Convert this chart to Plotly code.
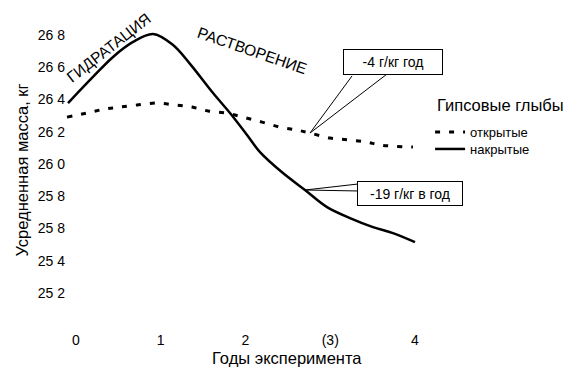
import plotly.graph_objects as go

# Data
years_covered = [-0.094, 0.20, 0.437, 0.673, 0.909, 1.145, 1.345, 1.617, 1.817, 2.018,
                 2.171, 2.442, 2.702, 2.962, 3.233, 3.504, 3.740, 4.0]
mass_covered = [26.378, 26.54, 26.664, 26.757, 26.806, 26.738, 26.621, 26.44, 26.316, 26.18,
                26.074, 25.944, 25.839, 25.733, 25.665, 25.609, 25.572, 25.516]

years_open = [-0.106, 0.13, 0.342, 0.519, 0.72, 0.956, 1.168, 1.369, 1.558, 1.77, 1.97,
              2.195, 2.407, 2.608, 2.761, 2.997, 3.233, 3.434, 3.587, 3.976]
mass_open = [26.291, 26.316, 26.341, 26.353, 26.366, 26.378, 26.366, 26.353, 26.329, 26.316,
             26.291, 26.26, 26.229, 26.211, 26.192, 26.161, 26.149, 26.136, 26.118, 26.105]

x_tickvals = [0, 1, 2, 3, 4]
x_ticktext = ["0", "1", "2", "(3)", "4"]
y_tickvals = [26.8, 26.6, 26.4, 26.2, 26.0, 25.8, 25.6, 25.4, 25.2]
y_ticktext = ["26 8", "26 6", "26 4", "26 2", "26 0", "25 8", "25 8", "25 4", "25 2"]

FONT = "Liberation Sans, Arial, sans-serif"

fig = go.Figure()
fig.add_trace(go.Scatter(x=years_open, y=mass_open, mode="lines", name="открытые",
                         legend="legend",
                         line=dict(color="black", width=3, dash="5px,9px", shape="spline")))
fig.add_trace(go.Scatter(x=years_covered, y=mass_covered, mode="lines", name="накрытые",
                         legend="legend2",
                         line=dict(color="black", width=2.5, shape="spline")))

# leader lines
for (x0, y0, x1, y1) in [(2.761, 26.192, 3.257, 26.546), (2.761, 26.192, 3.67, 26.558),
                         (2.702, 25.839, 3.327, 25.876), (2.702, 25.839, 3.327, 25.833)]:
    fig.add_shape(type="line", x0=x0, y0=y0, x1=x1, y1=y1, xref="x", yref="y",
                  line=dict(color="black", width=1))

fig.add_annotation(x=3.735, y=26.633, text="-4 г/кг год", showarrow=False,
                   font=dict(family=FONT, size=14, color="black"),
                   bordercolor="black", borderwidth=1, borderpad=3, bgcolor="white",
                   width=92, height=18)
fig.add_annotation(x=3.941, y=25.817, text="-19 г/кг в год", showarrow=False,
                   font=dict(family=FONT, size=14, color="black"),
                   bordercolor="black", borderwidth=1, borderpad=3, bgcolor="white",
                   width=98, height=17)
fig.add_annotation(x=0.39, y=26.72, text="ГИДРАТАЦИЯ", showarrow=False, textangle=-38,
                   font=dict(family=FONT, size=15.5, color="black"))
fig.add_annotation(x=2.077, y=26.707, text="РАСТВОРЕНИЕ", showarrow=False, textangle=19,
                   font=dict(family=FONT, size=15.5, color="black"))
# legend heading
fig.add_annotation(xref="paper", yref="paper", x=0.747, y=0.703, xanchor="left", yanchor="middle",
                   text="Гипсовые глыбы", showarrow=False,
                   font=dict(family=FONT, size=16.5, color="black"))
# x axis title (placed left of plot-area centre, as in the reference)
fig.add_annotation(xref="paper", yref="paper", x=(287 - 66) / 494, y=(330 - 358) / 320,
                   xanchor="center", yanchor="middle", text="Годы эксперимента",
                   showarrow=False, font=dict(family=FONT, size=16.5, color="black"))

legend_common = dict(xanchor="left", yanchor="middle", bgcolor="rgba(0,0,0,0)",
                     font=dict(size=13, family=FONT, color="black"))

fig.update_layout(
    width=563, height=365,
    margin=dict(l=58, r=11, t=2, b=43),
    paper_bgcolor="white", plot_bgcolor="white",
    font=dict(family=FONT, color="black"),
    showlegend=True,
    legend=dict(x=0.737, y=(330 - 132) / 320, **legend_common),
    legend2=dict(x=0.737, y=(330 - 149) / 320, **legend_common),
    xaxis=dict(
        range=[-0.118, 5.711], showgrid=False, zeroline=False, showline=False,
        tickvals=x_tickvals, ticktext=x_ticktext, ticks="",
        tickfont=dict(size=14, family=FONT),
    ),
    yaxis=dict(
        range=[24.971, 26.955], showgrid=False, zeroline=False, showline=False,
        tickvals=y_tickvals, ticktext=y_ticktext, ticks="", ticklen=0,
        tickfont=dict(size=14, family=FONT),
        title=dict(text="Усредненная масса, кг", font=dict(size=16.5, family=FONT), standoff=4),
    ),
)

fig.write_html("out.html")
